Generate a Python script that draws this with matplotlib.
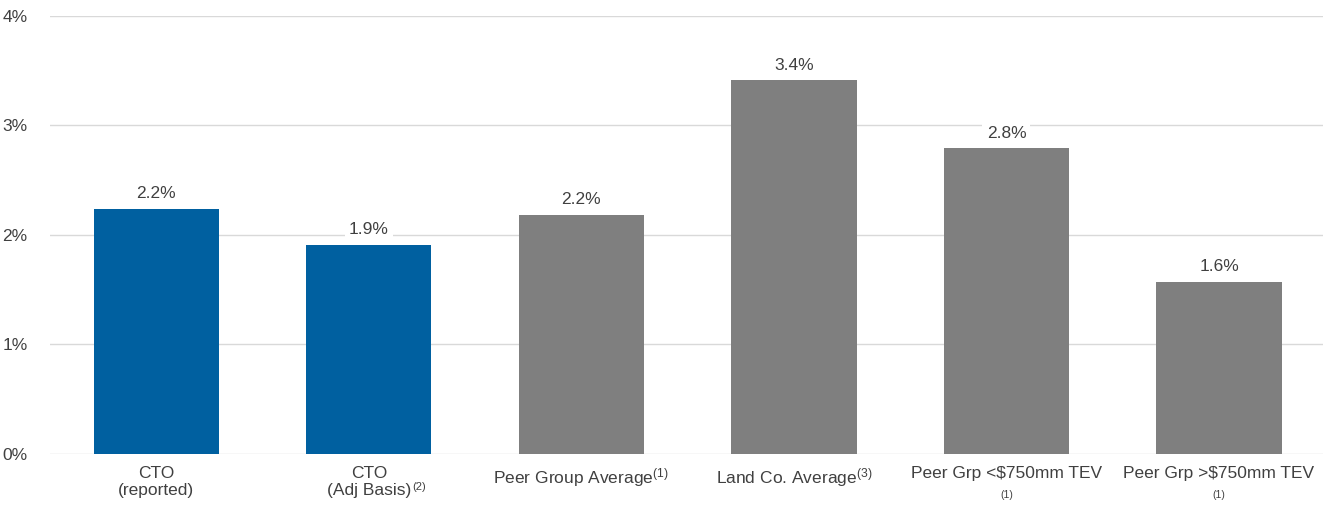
import matplotlib
matplotlib.use('Agg')
import matplotlib.pyplot as plt
from matplotlib.ticker import FuncFormatter

plt.rcParams['font.family'] = ['Liberation Sans', 'DejaVu Sans']
plt.rcParams['mathtext.fontset'] = 'custom'
plt.rcParams['mathtext.rm'] = 'Liberation Sans'
plt.rcParams['mathtext.it'] = 'Liberation Sans'
plt.rcParams['mathtext.default'] = 'regular'

# данные
categories = ['CTO\n(reported)',
              'CTO\n(Adj Basis)',
              'Peer Group Average$^{(1)}$',
              'Land Co. Average$^{(3)}$',
              'Peer Grp <\\$750mm TEV',
              'Peer Grp >\\$750mm TEV']
footnotes = ['', '', '', '', '(1)', '(1)']
values = [2.24, 1.91, 2.18, 3.41, 2.79, 1.57]
value_labels = ['2.2%', '1.9%', '2.2%', '3.4%', '2.8%', '1.6%']
colors = ['#0060a0', '#0060a0', '#7f7f7f', '#7f7f7f', '#7f7f7f', '#7f7f7f']

text_color = '#404040'
fs = 12.5

fig = plt.figure(figsize=(13.29, 5.11), dpi=100)
ax = fig.add_axes([0.0376, 0.112, 0.958, 0.857])

x = list(range(len(values)))
ax.bar(x, values, width=0.59, color=colors, zorder=2)

for i, v in enumerate(values):
    ax.text(i, v + 0.07, value_labels[i], ha='center', va='bottom',
            fontsize=fs, color=text_color, zorder=3,
            bbox=dict(facecolor='white', edgecolor='none', pad=3))

ax.set_ylim(0, 4)
ax.set_xlim(-0.5, 5.49)
ax.set_yticks([0, 1, 2, 3, 4])
ax.yaxis.set_major_formatter(FuncFormatter(lambda y, _: f'{int(y)}%'))
ax.set_xticks(x)
ax.set_xticklabels(categories, fontsize=fs, color=text_color,
                   linespacing=1.15)
ax.tick_params(axis='y', labelsize=fs, labelcolor=text_color, length=0, pad=16)
ax.tick_params(axis='x', length=0, pad=9)

# сноски
for i, f in enumerate(footnotes):
    if f:
        ax.annotate(f, xy=(i, 0), xycoords='data', xytext=(0, -26),
                    textcoords='offset points', ha='center', va='top',
                    fontsize=7.5, color=text_color)
ax.annotate('(2)', xy=(1, 0), xycoords='data', xytext=(31, -20),
            textcoords='offset points', ha='left', va='top',
            fontsize=8, color=text_color)

ax.grid(axis='y', color='#d9d9d9', linewidth=1, zorder=0)
ax.set_axisbelow(True)
for s in ax.spines.values():
    s.set_visible(False)

fig.savefig('out.png', dpi=100, facecolor='white')
